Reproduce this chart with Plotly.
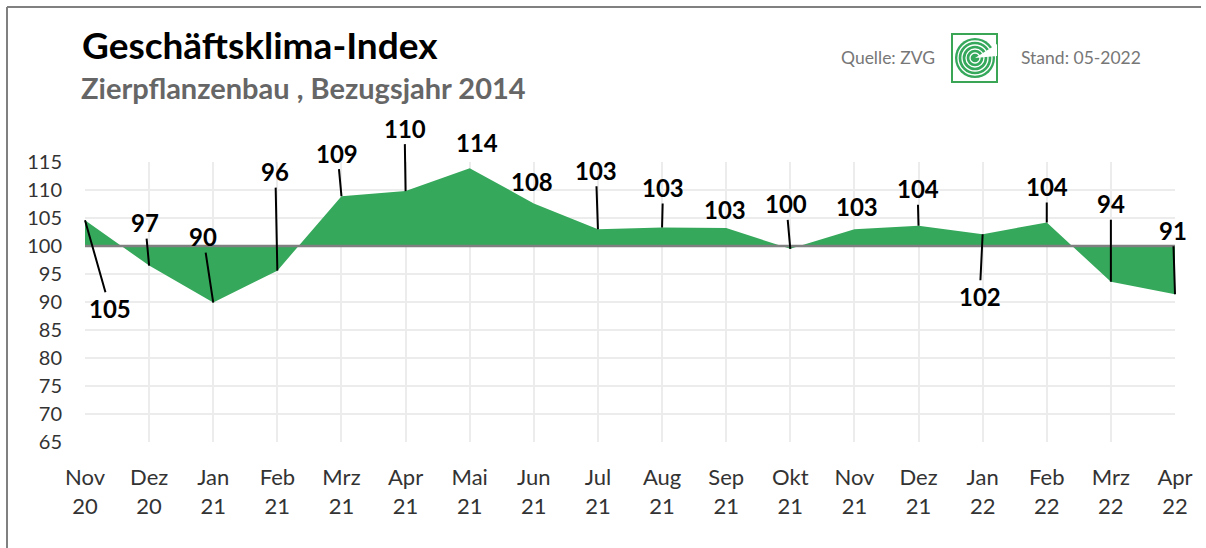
import plotly.graph_objects as go

months = ["Nov<br>20", "Dez<br>20", "Jan<br>21", "Feb<br>21", "Mrz<br>21", "Apr<br>21",
          "Mai<br>21", "Jun<br>21", "Jul<br>21", "Aug<br>21", "Sep<br>21", "Okt<br>21",
          "Nov<br>21", "Dez<br>21", "Jan<br>22", "Feb<br>22", "Mrz<br>22", "Apr<br>22"]
values = [104.6, 96.5, 89.9, 95.6, 108.9, 109.8, 113.9, 107.6, 103.0, 103.3,
          103.2, 99.5, 103.0, 103.6, 102.1, 104.2, 93.6, 91.4]
labels = ["105", "97", "90", "96", "109", "110", "114", "108", "103", "103",
          "103", "100", "103", "104", "102", "104", "94", "91"]
baseline = 100
y_ticks = [65, 70, 75, 80, 85, 90, 95, 100, 105, 110, 115]

# label placement offsets (pixels) and whether a leader line is drawn
label_dx = [25, -4, -10, -2, -4, -1, 7, -2, -2, 1, -1, -4, 3, -1, -3, 0, 0, -2]
label_dy = [88, -43, -66, -99, -43, -63, -26, -22, -59, -40, -19, -45, -23, -37, 62, -36, -78, -64]
leader = [True, True, True, True, True, True, False, False, True, True, False, True,
          False, True, True, True, True, True]

W, H = 1206, 548
L, R, T, B = 85, 31, 162, 106
PW, PH = W - L - R, H - T - B
FONT = "Lato"
GREEN = "#35a85b"


def px(x):
    return (x - L) / PW


def py(y):
    return (H - B - y) / PH


fig = go.Figure()
fig.add_trace(go.Scatter(x=months, y=[baseline] * len(months), mode="lines",
                         line=dict(width=0, color=GREEN), hoverinfo="skip", showlegend=False))
fig.add_trace(go.Scatter(x=months, y=values, mode="lines", fill="tonexty",
                         fillcolor=GREEN, line=dict(width=0, color=GREEN), showlegend=False))
fig.add_trace(go.Scatter(x=months, y=[baseline] * len(months), mode="lines",
                         line=dict(width=2.5, color="#808080"), hoverinfo="skip", showlegend=False))

LBL_FONT = dict(family=FONT, size=24, color="black", weight="bold")
annotations = []
for m, v, t, dx, dy, ld in zip(months, values, labels, label_dx, label_dy, leader):
    if ld:
        annotations.append(dict(x=m, y=v, xref="x", yref="y", text=t, showarrow=True,
                                arrowhead=0, arrowwidth=2, arrowcolor="black",
                                ax=dx, ay=dy, standoff=0, startstandoff=0, font=LBL_FONT))
    else:
        annotations.append(dict(x=m, y=v, xref="x", yref="y", text=t, showarrow=False,
                                xshift=dx, yshift=-dy, font=LBL_FONT))

annotations += [
    dict(x=px(80), y=py(45), xref="paper", yref="paper", xanchor="left", yanchor="middle",
         text="<b>Geschäftsklima-Index</b>", showarrow=False,
         font=dict(family=FONT, size=37, color="#000000")),
    dict(x=px(79), y=py(87), xref="paper", yref="paper", xanchor="left", yanchor="middle",
         text="<b>Zierpflanzenbau , Bezugsjahr 2014</b>", showarrow=False,
         font=dict(family=FONT, size=29, color="#666666")),
    dict(x=px(937), y=py(57), xref="paper", yref="paper", xanchor="right", yanchor="middle",
         text="Quelle: ZVG", showarrow=False,
         font=dict(family=FONT, size=17.5, color="#777777")),
    dict(x=px(1019), y=py(57), xref="paper", yref="paper", xanchor="left", yanchor="middle",
         text="Stand: 05-2022", showarrow=False,
         font=dict(family=FONT, size=17.5, color="#777777")),
]

shapes = [
    # outer border (top and left)
    dict(type="line", xref="paper", yref="paper", x0=px(7), x1=px(1201), y0=py(7), y1=py(7),
         line=dict(color="#808080", width=2)),
    dict(type="line", xref="paper", yref="paper", x0=px(7), x1=px(7), y0=py(7), y1=py(548),
         line=dict(color="#808080", width=2)),
    # logo
    dict(type="rect", xref="paper", yref="paper", x0=px(952), x1=px(997), y0=py(34), y1=py(82),
         line=dict(color="#3aa655", width=2), fillcolor="white"),
]
cx, cy = 975, 58
r0 = 20
shapes.append(dict(type="circle", xref="paper", yref="paper", x0=px(cx - r0), x1=px(cx + r0),
                   y0=py(cy - r0), y1=py(cy + r0), line=dict(width=0), fillcolor=GREEN))
for r in [5, 9, 13, 17]:
    shapes.append(dict(type="circle", xref="paper", yref="paper", x0=px(cx - r), x1=px(cx + r),
                       y0=py(cy - r), y1=py(cy + r), line=dict(color="white", width=1.3)))
# opening of the "G"
shapes.append(dict(type="path", xref="paper", yref="paper",
                   path=f"M {px(cx)} {py(cy)} L {px(cx + 22)} {py(cy - 14)} L {px(cx + 22)} {py(cy - 2)} Z",
                   fillcolor="white", line=dict(width=0)))

fig.update_layout(
    width=W, height=H,
    margin=dict(l=L, r=R, t=T, b=B),
    paper_bgcolor="white", plot_bgcolor="white",
    font=dict(family=FONT, color="#333333"),
    xaxis=dict(type="category", range=[0, len(months) - 1], showgrid=True,
               gridcolor="#ececec", gridwidth=2, zeroline=False, showline=False,
               tickfont=dict(size=22, color="#333333"), ticks="", ticklabelstandoff=20),
    yaxis=dict(range=[65, 115], tickvals=y_ticks, showgrid=True, gridcolor="#ececec",
               gridwidth=2, zeroline=False, showline=False,
               tickfont=dict(size=20, color="#333333"), ticks="", ticklabelstandoff=22),
    annotations=annotations,
    shapes=shapes,
    showlegend=False,
)

fig.write_html("out.html", config={"displayModeBar": False},
               post_script="document.body.style.margin='0';document.body.style.overflow='hidden';")
